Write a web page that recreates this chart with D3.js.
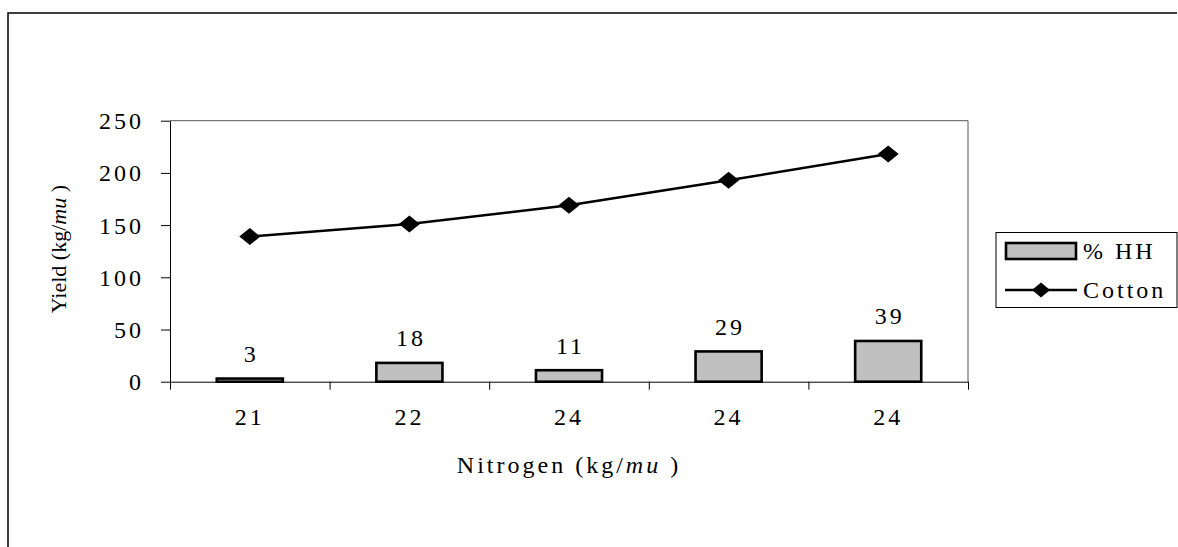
<!DOCTYPE html>
<html><head><meta charset="utf-8">
<script src="https://cdn.jsdelivr.net/npm/d3@7"></script>
<style>
html,body{margin:0;padding:0;background:#fff;}
svg text{font-family:"Liberation Serif","Times New Roman","DejaVu Serif",serif;fill:#000;}
</style></head>
<body><svg id="c" width="1178" height="547"></svg>
<script>
const categories = ["21","22","24","24","24"];
const hhValues = [3,18,11,29,39];
const cottonValues = [139,151,169,193,218];
const yTicks = [0,50,100,150,200,250];
const seriesNames = ["% HH","Cotton"];

const svg = d3.select("#c");
const L=170,R=968,T=120.7,B=381.7;
const x = d3.scaleBand().domain(d3.range(categories.length)).range([L,R]).padding(0);
const xEdge = d3.scaleLinear().domain([0,categories.length]).range([L,R]);
const y = d3.scaleLinear().domain([0,250]).range([B,T]);

// outer border (top and left)
svg.append("path").attr("d",`M8,547V13H1177`).attr("fill","none").attr("stroke","#000").attr("stroke-width",1.5);

// plot border top/right
svg.append("path").attr("d",`M${L},${T}H${R}V${B}`).attr("fill","none").attr("stroke","#555").attr("stroke-width",1);

// y axis
const ya = svg.append("g").attr("transform",`translate(${L},0)`)
  .call(d3.axisLeft(y).tickValues(yTicks).tickSize(9).tickSizeOuter(0).tickPadding(17));
ya.attr("font-family",null);
ya.select(".domain").attr("stroke","#000");
ya.selectAll("line").attr("stroke","#000");
ya.selectAll("text").attr("font-size",24).attr("letter-spacing","3px").attr("dy","0.33em");

// x axis ticks at band edges
const xa = svg.append("g").attr("transform",`translate(0,${B})`)
  .call(d3.axisBottom(xEdge).tickValues(d3.range(categories.length+1)).tickSize(8).tickSizeOuter(0).tickFormat(""));
xa.select(".domain").attr("stroke","#000");
xa.selectAll("line").attr("stroke","#000");
const xl = svg.append("g").attr("transform",`translate(0,${B})`)
  .call(d3.axisBottom(x).tickFormat(i=>categories[i]).tickSize(0).tickPadding(26));
xl.attr("font-family",null);
xl.select(".domain").remove();
xl.selectAll("text").attr("font-size",24).attr("letter-spacing","3px");

// bars
const bw = x.bandwidth()*0.414;
svg.append("g").selectAll("rect").data(hhValues).join("rect")
  .attr("x",(d,i)=>x(i)+x.bandwidth()/2-bw/2)
  .attr("y",d=>y(d))
  .attr("width",bw)
  .attr("height",d=>B-y(d))
  .attr("fill","#c0c0c0").attr("stroke","#000").attr("stroke-width",2.6);

// bar labels
svg.append("g").selectAll("text").data(hhValues).join("text")
  .attr("x",(d,i)=>x(i)+x.bandwidth()/2+1.5)
  .attr("y",d=>y(d)-25)
  .attr("dy","0.35em")
  .attr("text-anchor","middle")
  .attr("font-size",24).attr("letter-spacing","3px")
  .text(d=>d);

// cotton line
const line = d3.line().x((d,i)=>x(i)+x.bandwidth()/2).y(d=>y(d));
svg.append("path").datum(cottonValues).attr("d",line).attr("fill","none").attr("stroke","#000").attr("stroke-width",2.5);
const diamond = (cx,cy,w,h)=>`M${cx},${cy-h/2}L${cx+w/2},${cy}L${cx},${cy+h/2}L${cx-w/2},${cy}Z`;
svg.append("g").selectAll("path").data(cottonValues).join("path")
  .attr("d",(d,i)=>diamond(x(i)+x.bandwidth()/2,y(d),21,17))
  .attr("fill","#000");

// axis titles
const yt = svg.append("text").attr("transform",`translate(58,${(T+B)/2 - 2}) rotate(-90)`)
  .attr("text-anchor","middle").attr("font-size",22).attr("dy","0.35em");
yt.append("tspan").text("Yield (kg/");
yt.append("tspan").attr("font-style","italic").text("mu");
yt.append("tspan").text(" )");

const xt = svg.append("text").attr("x",(L+R)/2).attr("y",465)
  .attr("text-anchor","middle").attr("font-size",24).attr("letter-spacing","3px").attr("dy","0.35em");
xt.append("tspan").text("Nitrogen (kg/");
xt.append("tspan").attr("font-style","italic").text("mu");
xt.append("tspan").text(" )");

// legend
const lg = svg.append("g");
lg.append("rect").attr("x",996).attr("y",232.5).attr("width",181).attr("height",75).attr("fill","#fff").attr("stroke","#000").attr("stroke-width",1);
lg.append("rect").attr("x",1006).attr("y",243).attr("width",70).attr("height",16).attr("fill","#c0c0c0").attr("stroke","#000").attr("stroke-width",2.6);
lg.append("line").attr("x1",1005).attr("x2",1077).attr("y1",290).attr("y2",290).attr("stroke","#000").attr("stroke-width",2.5);
lg.append("path").attr("d",diamond(1041,290,18,15)).attr("fill","#000");
lg.selectAll("text.lt").data(seriesNames).join("text").attr("class","lt")
  .attr("x",1083).attr("y",(d,i)=>251+i*39).attr("dy","0.35em")
  .attr("font-size",24).attr("letter-spacing","3px").text(d=>d);
</script></body></html>
